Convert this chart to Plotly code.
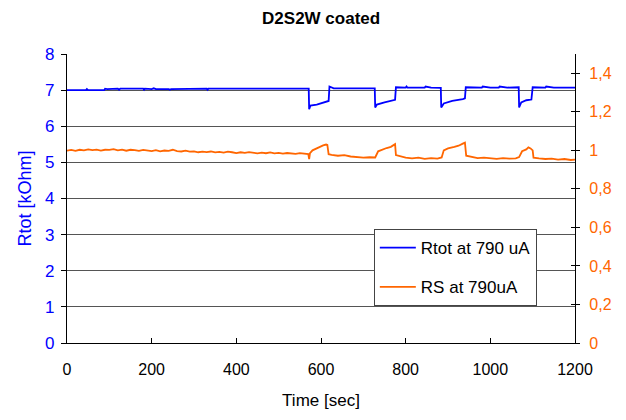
import plotly.graph_objects as go

# Rtot at 790 uA (kOhm), left axis
rtot_t = [0, 45, 47, 50, 88, 90, 95, 120, 123, 126, 180, 182, 184, 200, 205, 210, 240, 243, 246,
          300, 330, 332, 334, 380, 470, 520, 571, 572, 575, 590, 600, 610, 618, 620, 623, 630,
          700, 727, 728, 732, 750, 765, 775, 777, 790, 800, 802, 804, 830, 845, 847, 860, 883,
          884, 890, 910, 935, 940, 942, 960, 980, 982, 1000, 1020, 1022, 1040, 1055, 1067, 1068,
          1073, 1085, 1097, 1100, 1110, 1130, 1132, 1150, 1170, 1200]
rtot_v = [7.00, 7.00, 7.03, 7.00, 7.00, 7.04, 7.03, 7.04, 7.01, 7.04, 7.04, 7.01, 7.04, 7.03, 7.05, 7.03, 7.03, 7.01, 7.03,
          7.04, 7.04, 7.01, 7.04, 7.04, 7.04, 7.04, 7.04, 6.47, 6.57, 6.60, 6.63, 6.67, 6.70, 7.10, 7.08, 7.05,
          7.05, 7.05, 6.52, 6.60, 6.66, 6.70, 6.73, 7.08, 7.07, 7.07, 7.10, 7.07, 7.07, 7.07, 7.10, 7.07, 7.06,
          6.52, 6.63, 6.70, 6.75, 6.77, 7.08, 7.07, 7.07, 7.10, 7.07, 7.07, 7.10, 7.07, 7.08, 7.08, 6.52,
          6.66, 6.72, 6.74, 7.08, 7.07, 7.07, 7.10, 7.07, 7.07, 7.07]

# RS at 790uA, right axis
rs_t = [0, 10, 20, 30, 40, 50, 60, 70, 80, 90, 100, 110, 120, 130, 140, 150, 160, 170, 180, 190,
        200, 210, 220, 230, 240, 250, 260, 270, 280, 290, 300, 310, 320, 330, 340, 350, 360, 370,
        380, 390, 400, 410, 420, 430, 440, 450, 460, 470, 480, 490, 500, 510, 520, 530, 540, 550,
        560, 570, 572, 574, 580, 590, 600, 605, 612, 615, 618, 625, 640, 655, 670, 685, 700, 715,
        728, 735, 745, 755, 765, 772, 775, 777, 785, 800, 815, 830, 845, 860, 875, 885, 890, 900,
        915, 925, 935, 940, 943, 955, 970, 985, 1000, 1015, 1030, 1045, 1060, 1068, 1075, 1085,
        1090, 1095, 1100, 1102, 1115, 1130, 1145, 1160, 1175, 1190, 1200]
rs_v = [0.998, 1.002, 0.997, 1.003, 1.000, 1.005, 1.001, 1.004, 0.999, 1.003, 1.002, 1.006, 1.000, 1.004, 0.998, 1.003, 1.001, 0.997, 1.002, 0.999,
        0.996, 1.001, 0.995, 0.999, 0.997, 1.003, 0.996, 0.994, 0.998, 0.993, 0.995, 0.990, 0.993, 0.991, 0.994, 0.989, 0.992, 0.988,
        0.993, 0.990, 0.986, 0.990, 0.987, 0.991, 0.986, 0.984, 0.988, 0.985, 0.989, 0.984, 0.987, 0.983, 0.986, 0.984, 0.982, 0.985,
        0.981, 0.980, 0.955, 0.985, 1.000, 1.012, 1.020, 1.026, 1.030, 1.028, 0.980, 0.976, 0.972, 0.975, 0.968, 0.966, 0.962, 0.964,
        0.963, 0.995, 1.005, 1.012, 1.018, 1.028, 1.032, 0.975, 0.970, 0.962, 0.958, 0.962, 0.956, 0.960, 0.957, 0.963, 1.000, 1.010,
        1.018, 1.024, 1.035, 1.040, 0.972, 0.965, 0.960, 0.962, 0.958, 0.956, 0.960, 0.957, 0.958, 0.965, 0.995, 1.005,
        1.015, 1.010, 1.000, 0.962, 0.958, 0.955, 0.957, 0.952, 0.955, 0.950, 0.952]

x_ticks = [0, 200, 400, 600, 800, 1000, 1200]
left_ticks = [0, 1, 2, 3, 4, 5, 6, 7, 8]
right_ticks = [0, 0.2, 0.4, 0.6, 0.8, 1.0, 1.2, 1.4]
right_labels = ["0", "0,2", "0,4", "0,6", "0,8", "1", "1,2", "1,4"]

BLUE = "#0000FF"
ORANGE = "#FF6600"
FONT = "Liberation Sans, Arial, sans-serif"

fig = go.Figure()
fig.add_trace(go.Scatter(x=rtot_t, y=rtot_v, mode="lines", name="Rtot at 790 uA",
                         line=dict(color=BLUE, width=1.8), legendgroup="a"))
fig.add_trace(go.Scatter(x=rs_t, y=rs_v, mode="lines", name="RS at 790uA",
                         line=dict(color=ORANGE, width=1.8), yaxis="y2", legendgroup="b"))

fig.update_layout(
    width=626, height=420,
    margin=dict(l=67, r=51, t=54, b=77),
    paper_bgcolor="white", plot_bgcolor="white",
    font=dict(family=FONT, size=16, color="black"),
    title=dict(text="<b>D2S2W coated</b>", x=0.513, xanchor="center", y=0.957, yanchor="middle",
               font=dict(size=17, family=FONT, color="black")),
    xaxis=dict(range=[0, 1200], tickvals=x_ticks, ticks="inside", ticklen=5, tickcolor="black",
               showline=True, linecolor="black", linewidth=1, showgrid=False, zeroline=False,
               ticklabelstandoff=12, tickfont=dict(size=16),
               title=dict(text="Time [sec]", font=dict(size=17), standoff=16)),
    yaxis=dict(range=[0, 8], tickvals=left_ticks, ticks="outside", ticklen=5, tickcolor="black",
               showline=True, linecolor="black", linewidth=1.2, showgrid=True, gridcolor="#555555",
               gridwidth=1, zeroline=False, tickfont=dict(size=17, color=BLUE), ticklabelstandoff=3,
               title=dict(text="Rtot [kOhm]", font=dict(size=18, color=BLUE), standoff=8)),
    yaxis2=dict(range=[0, 1.5], tickvals=right_ticks, ticktext=right_labels, overlaying="y",
                side="right", ticks="outside", ticklen=4, tickcolor="black", showline=True,
                linecolor="black", linewidth=1.2, showgrid=False, zeroline=False,
                tickfont=dict(size=16, color=ORANGE), ticklabelstandoff=6),
    yaxis3=dict(range=[0, 1.5], tickvals=right_ticks, overlaying="y", side="right",
                anchor="x", ticks="inside", ticklen=4, tickcolor="black", showticklabels=False,
                showline=False, showgrid=False, zeroline=False),
    legend=dict(x=0.604, y=0.394, xanchor="left", yanchor="top", bgcolor="white",
                bordercolor="#444444", borderwidth=1, tracegroupgap=14,
                font=dict(size=17, color="black"), itemwidth=36),
    showlegend=True,
)
# invisible trace that activates the crossing-tick axis
fig.add_trace(go.Scatter(x=[None], y=[None], yaxis="y3", showlegend=False, hoverinfo="skip"))

fig.write_html("out.html", config={"displayModeBar": False},
               post_script="document.body.style.margin='0';")
